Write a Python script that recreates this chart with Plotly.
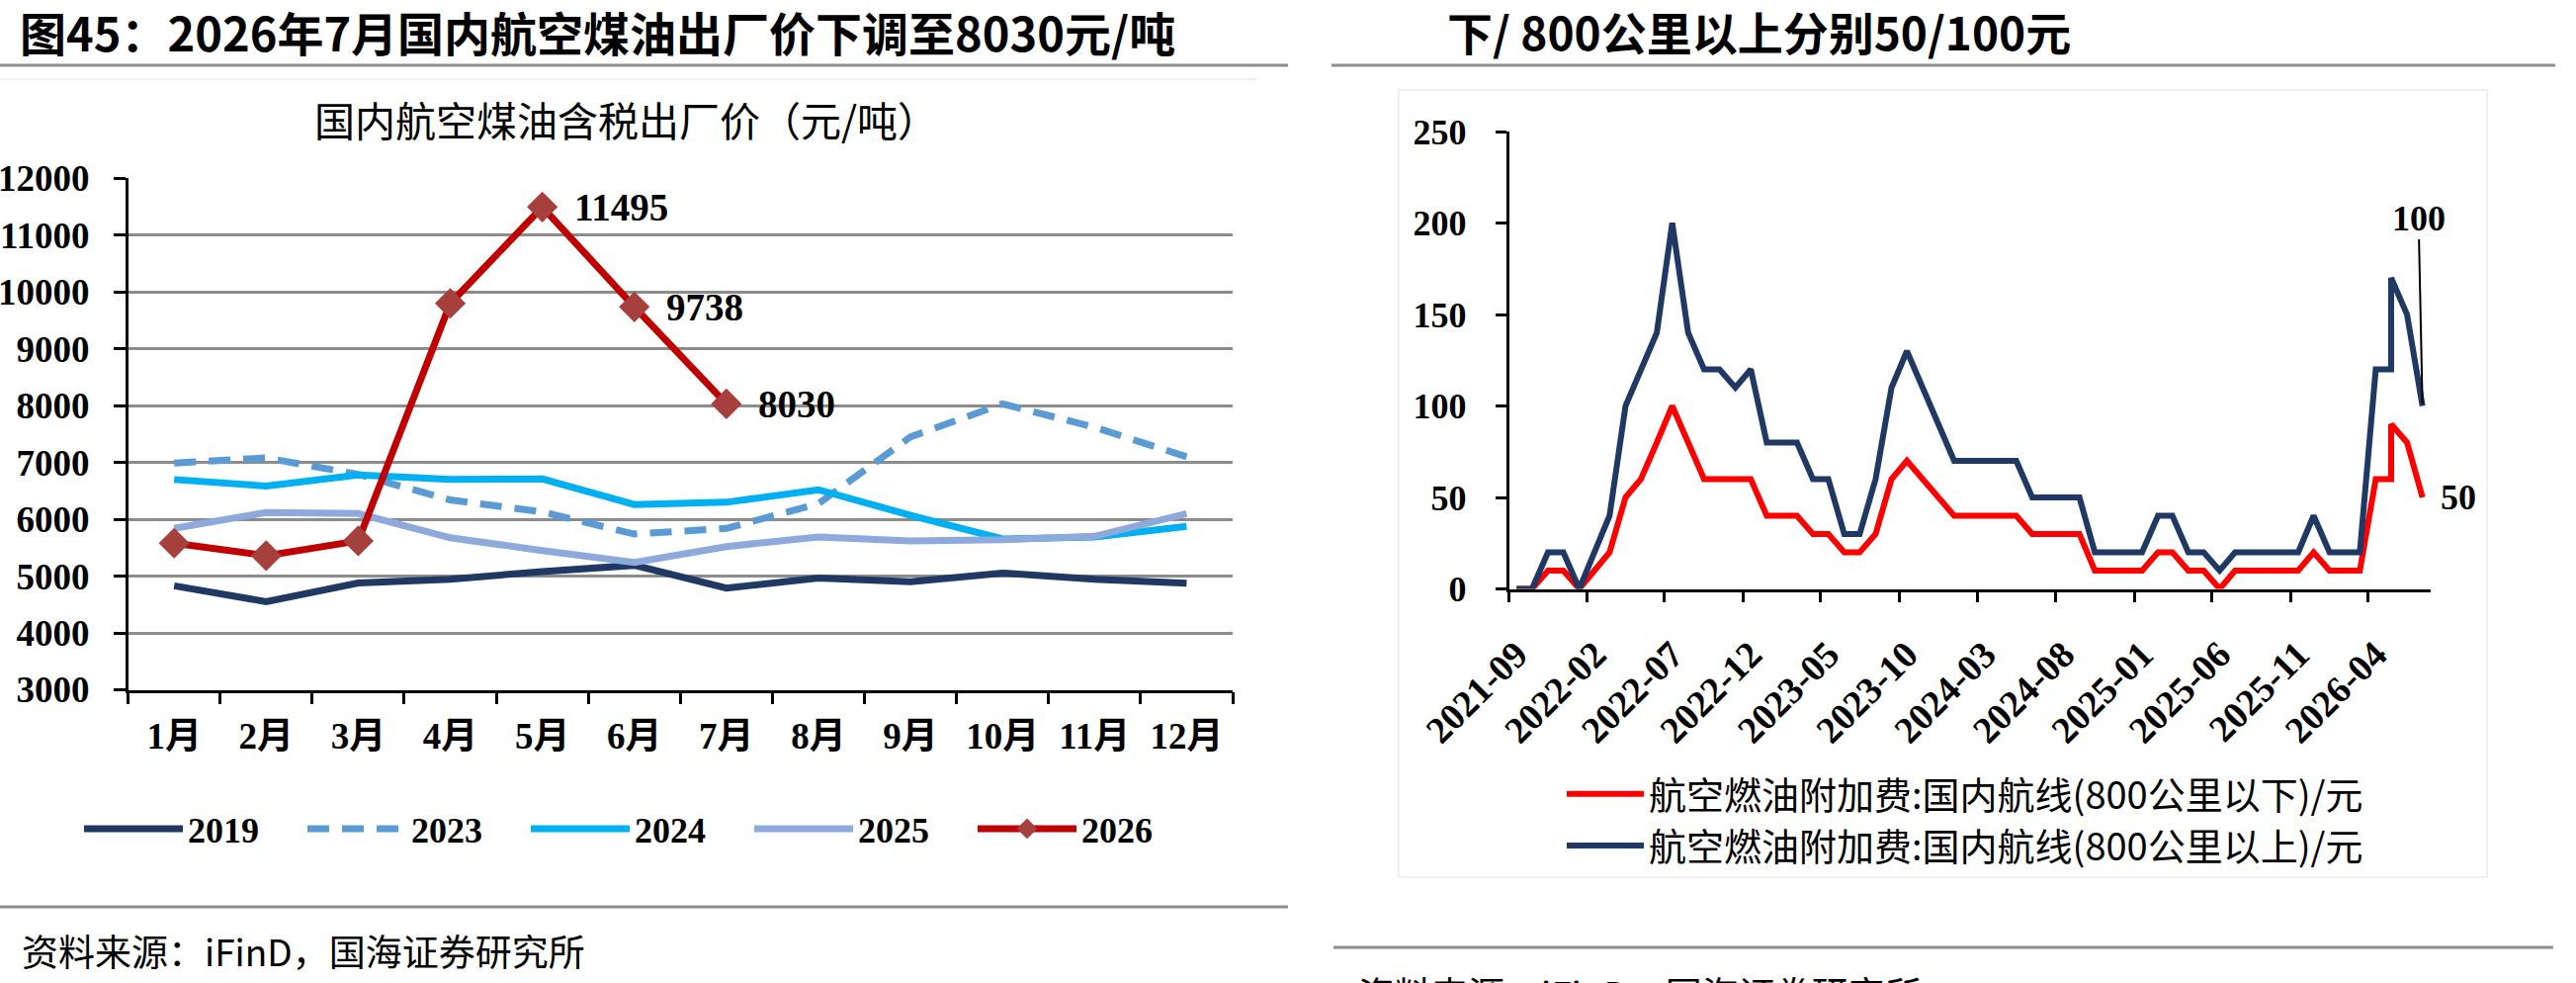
import plotly.graph_objects as go
import pandas as pd

W, H = 2606, 994

# ---------------- Left chart data ----------------
months_cn = ["1月", "2月", "3月", "4月", "5月", "6月", "7月", "8月", "9月", "10月", "11月", "12月"]
price_2019 = [4830, 4550, 4880, 4945, 5080, 5190, 4790, 4965, 4900, 5055, 4945, 4875]
price_2023 = [6990, 7080, 6790, 6340, 6130, 5740, 5840, 6275, 7450, 8030, 7620, 7100]
price_2024 = [6700, 6585, 6780, 6700, 6710, 6260, 6300, 6520, 6070, 5655, 5690, 5875]
price_2025 = [5840, 6120, 6100, 5675, 5450, 5240, 5520, 5690, 5620, 5640, 5700, 6100]
price_2026 = [5580, 5360, 5620, 9800, 11495, 9738, 8030]
labelled_2026 = ["5月", "6月", "7月"]

# ---------------- Right chart data ----------------
surcharge_months = [
    "2021-09", "2021-10", "2021-11", "2021-12", "2022-01", "2022-02", "2022-03", "2022-04",
    "2022-05", "2022-06", "2022-07", "2022-08", "2022-09", "2022-10", "2022-11", "2022-12",
    "2023-01", "2023-02", "2023-03", "2023-04", "2023-05", "2023-06", "2023-07", "2023-08",
    "2023-09", "2023-10", "2023-11", "2023-12", "2024-01", "2024-02", "2024-03", "2024-04",
    "2024-05", "2024-06", "2024-07", "2024-08", "2024-09", "2024-10", "2024-11", "2024-12",
    "2025-01", "2025-02", "2025-03", "2025-04", "2025-05", "2025-06", "2025-07", "2025-08",
    "2025-09", "2025-10", "2025-11", "2025-12", "2026-01", "2026-02", "2026-03", "2026-04",
    "2026-05", "2026-05", "2026-06", "2026-07",
]
surcharge_below_800 = [
    0, 0, 10, 10, 0, 10, 20, 50,
    60, 80, 100, 80, 60, 60, 60, 60,
    40, 40, 40, 30, 30, 20, 20, 30,
    60, 70, 60, 50, 40, 40, 40, 40,
    40, 30, 30, 30, 30, 10, 10, 10,
    10, 20, 20, 10, 10, 0, 10, 10,
    10, 10, 10, 20, 10, 10, 10, 60,
    60, 90, 80, 50,
]
surcharge_above_800 = [
    0, 0, 20, 20, 0, 20, 40, 100,
    120, 140, 200, 140, 120, 120, 110, 120,
    80, 80, 80, 60, 60, 30, 30, 60,
    110, 130, 110, 90, 70, 70, 70, 70,
    70, 50, 50, 50, 50, 20, 20, 20,
    20, 40, 40, 20, 20, 10, 20, 20,
    20, 20, 20, 40, 20, 20, 20, 120,
    120, 170, 150, 100,
]
surcharge_tick_labels = ["2021-09", "2022-02", "2022-07", "2022-12", "2023-05", "2023-10",
                         "2024-03", "2024-08", "2025-01", "2025-06", "2025-11", "2026-04"]

# monthly points sit in the middle of each month slot
x_dates = pd.to_datetime(surcharge_months) + pd.Timedelta(days=15)
tick_mid = pd.to_datetime(surcharge_tick_labels) + pd.Timedelta(days=15)
tick_bound = pd.to_datetime(surcharge_tick_labels)

SERIF = "Liberation Serif, Noto Sans CJK SC"
CJK = "Noto Sans CJK SC"

fig = go.Figure()

left_series = [
    ("2019", price_2019, "#1F3864", "solid"),
    ("2023", price_2023, "#5B9BD5", "22px,13px"),
    ("2024", price_2024, "#00B0F0", "solid"),
    ("2025", price_2025, "#8EA9DB", "solid"),
]
for name, vals, color, dash in left_series:
    fig.add_trace(go.Scatter(
        x=months_cn[:len(vals)], y=vals, name=name, mode="lines",
        line=dict(color=color, width=7, dash=dash),
        xaxis="x", yaxis="y", legend="legend", hoverinfo="skip"))

fig.add_trace(go.Scatter(
    x=months_cn[:len(price_2026)], y=price_2026, name="2026", mode="lines+markers",
    line=dict(color="#C00000", width=7),
    marker=dict(symbol="diamond", size=24, color="#A5403C"),
    xaxis="x", yaxis="y", legend="legend", hoverinfo="skip"))

fig.add_trace(go.Scatter(
    x=x_dates, y=surcharge_below_800, name="航空燃油附加费:国内航线(800公里以下)/元",
    mode="lines", line=dict(color="#FF0000", width=6),
    xaxis="x2", yaxis="y2", legend="legend2", hoverinfo="skip"))
fig.add_trace(go.Scatter(
    x=x_dates, y=surcharge_above_800, name="航空燃油附加费:国内航线(800公里以上)/元",
    mode="lines", line=dict(color="#1F3864", width=6),
    xaxis="x2", yaxis="y2", legend="legend2", hoverinfo="skip"))

tickfont = dict(family=SERIF, size=37, color="black", weight="bold")

annotations = []
# data labels for 2026
for m in labelled_2026:
    v = price_2026[months_cn.index(m)]
    annotations.append(dict(x=m, y=v, xref="x", yref="y", text=str(v), showarrow=False,
                            xanchor="left", yanchor="middle", xshift=30,
                            font=dict(family=SERIF, size=39, color="black", weight="bold")))
# right chart end labels
annotations.append(dict(x=x_dates[-1], y=surcharge_above_800[-1], xref="x2", yref="y2",
                        text=str(surcharge_above_800[-1]), showarrow=True, arrowhead=0,
                        arrowwidth=2, arrowcolor="black", ax=-4, ay=-190, standoff=2,
                        font=dict(family=SERIF, size=36, color="black", weight="bold")))
annotations.append(dict(x=x_dates[-1], y=surcharge_below_800[-1], xref="x2", yref="y2",
                        text=str(surcharge_below_800[-1]), showarrow=False,
                        xanchor="left", yanchor="middle", xshift=16,
                        font=dict(family=SERIF, size=36, color="black", weight="bold")))
# headings / titles / sources
annotations.append(dict(x=18 / W, y=1 - 31 / H, xref="paper", yref="paper",
                        text="图45：2026年7月国内航空煤油出厂价下调至8030元/吨", showarrow=False,
                        xanchor="left", yanchor="middle",
                        font=dict(family=CJK, size=47, color="black", weight="bold")))
annotations.append(dict(x=1462 / W, y=1 - 31 / H, xref="paper", yref="paper",
                        text="下/ 800公里以上分别50/100元", showarrow=False,
                        xanchor="left", yanchor="middle",
                        font=dict(family=CJK, size=46, color="black", weight="bold")))
annotations.append(dict(x=633 / W, y=1 - 120 / H, xref="paper", yref="paper",
                        text="国内航空煤油含税出厂价（元/吨）", showarrow=False,
                        xanchor="center", yanchor="middle",
                        font=dict(family=CJK, size=41, color="black")))
annotations.append(dict(x=20 / W, y=1 - 961 / H, xref="paper", yref="paper",
                        text="资料来源：iFinD，国海证券研究所", showarrow=False,
                        xanchor="left", yanchor="middle",
                        font=dict(family=CJK, size=37, color="black")))
annotations.append(dict(x=1372 / W, y=1 - 1004 / H, xref="paper", yref="paper",
                        text="资料来源：iFinD，国海证券研究所", showarrow=False,
                        xanchor="left", yanchor="middle",
                        font=dict(family=CJK, size=37, color="black")))

gray = "#8C8C8C"
shapes = [
    dict(type="line", xref="paper", yref="paper", x0=0, x1=1303 / W, y0=1 - 66 / H, y1=1 - 66 / H,
         line=dict(color=gray, width=3)),
    dict(type="line", xref="paper", yref="paper", x0=1347 / W, x1=2585 / W, y0=1 - 66 / H, y1=1 - 66 / H,
         line=dict(color=gray, width=3)),
    dict(type="line", xref="paper", yref="paper", x0=0, x1=1303 / W, y0=1 - 917 / H, y1=1 - 917 / H,
         line=dict(color=gray, width=3)),
    dict(type="line", xref="paper", yref="paper", x0=1349 / W, x1=2583 / W, y0=1 - 958 / H, y1=1 - 958 / H,
         line=dict(color=gray, width=3)),
    dict(type="rect", xref="paper", yref="paper", x0=1415 / W, x1=2516 / W, y0=1 - 887 / H, y1=1 - 91 / H,
         line=dict(color="#F0F0F0", width=2), layer="below"),
    dict(type="line", xref="paper", yref="paper", x0=0, x1=1271 / W, y0=1 - 80 / H, y1=1 - 80 / H,
         line=dict(color="#F0F0F0", width=2), layer="below"),
]

fig.update_layout(
    width=W, height=H, margin=dict(l=0, r=0, t=0, b=0, pad=0, autoexpand=False),
    paper_bgcolor="white", plot_bgcolor="white",
    showlegend=True,
    xaxis=dict(domain=[129.6 / W, 1247 / W], type="category", range=[-0.5, 11.5],
               categoryorder="array", categoryarray=months_cn,
               tickson="boundaries", ticks="outside", ticklen=12, tickwidth=2.5, tickcolor="black",
               showline=True, linecolor="black", linewidth=2.5, showgrid=False, zeroline=False,
               tickfont=tickfont, ticklabelstandoff=12, anchor="y", automargin=False),
    yaxis=dict(domain=[1 - 697.5 / H, 1 - 180.3 / H], range=[3000, 12000], tick0=3000, dtick=1000,
               tickformat="d",
               ticks="outside", ticklen=12, tickwidth=2.5, tickcolor="black",
               showgrid=True, gridcolor=gray, gridwidth=2.5,
               showline=True, linecolor="black", linewidth=2.5, zeroline=False,
               tickfont=tickfont, ticklabelstandoff=17, anchor="x", automargin=False),
    xaxis2=dict(domain=[1526.5 / W, 2459 / W], type="date", range=["2021-09-01", "2026-08-01"],
                tickmode="array", tickvals=list(tick_mid), ticktext=surcharge_tick_labels,
                tickangle=-45, ticks="", showline=True, linecolor="black", linewidth=2.5,
                showgrid=False, zeroline=False, tickfont=dict(family=SERIF, size=38, color="black", weight="bold"),
                minor=dict(tickmode="array", tickvals=list(tick_bound), ticks="outside", ticklen=11,
                           tickwidth=2.5, tickcolor="black", showgrid=False),
                ticklabelstandoff=26, anchor="y2", automargin=False),
    yaxis2=dict(domain=[1 - 595.5 / H, 1 - 133 / H], range=[0, 250], tick0=0, dtick=50,
                ticks="outside", ticklen=11, tickwidth=2.5, tickcolor="black",
                showgrid=False, showline=True, linecolor="black", linewidth=2.5, zeroline=False,
                tickfont=dict(family=SERIF, size=36, color="black", weight="bold"),
                ticklabelstandoff=22, anchor="x2", automargin=False),
    legend=dict(orientation="h", x=80 / W, xanchor="left", y=1 - 838 / H, yanchor="middle",
                itemwidth=100, entrywidth=111, entrywidthmode="pixels",
                font=dict(family=SERIF, size=36, color="black", weight="bold"),
                bgcolor="rgba(0,0,0,0)", itemclick=False, itemdoubleclick=False),
    legend2=dict(orientation="v", x=1580 / W, xanchor="left", y=1 - 829 / H, yanchor="middle",
                 itemwidth=78,
                 font=dict(family=CJK, size=38, color="black"),
                 bgcolor="rgba(0,0,0,0)", itemclick=False, itemdoubleclick=False),
    annotations=annotations,
    shapes=shapes,
)

fig.write_html("out.html")
